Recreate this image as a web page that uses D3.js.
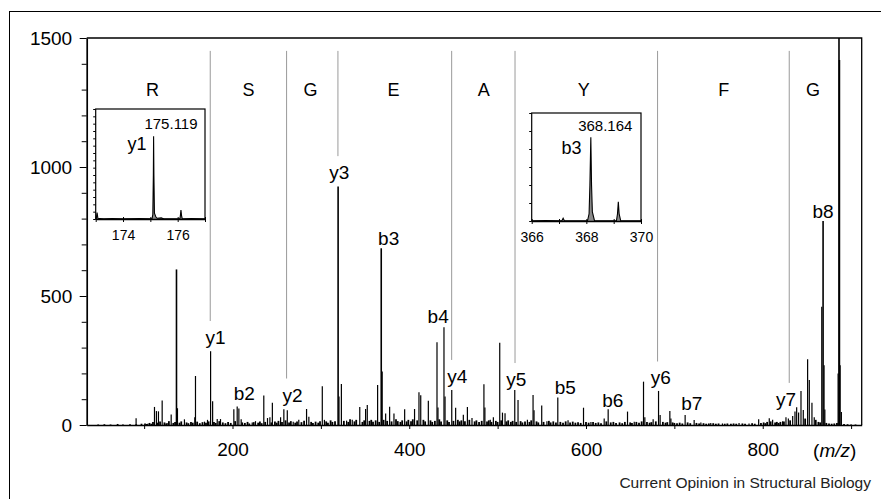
<!DOCTYPE html>
<html>
<meta charset="utf-8">
<head>
<title>Peptide MS/MS spectrum</title>
<style>
body { margin: 0; background: #fff; }
svg { display: block; font-family: "Liberation Sans", Arial, sans-serif; }
</style>
<script src="https://d3js.org/d3.v7.min.js"></script>
</head>
<body>
<svg></svg>
<script>

// main peaks, [m/z, intensity]
var peaks = [
  [90.9, 26], [104.1, 5], [111.7, 70], [113.9, 54], [116.2, 53], [120.4, 95], [126, 8], [130.6, 41],
  [136.6, 603], [137.7, 65], [145.6, 22], [157.3, 30], [158.1, 190], [168.3, 13], [171.7, 20],
  [175.2, 286], [177.5, 92], [182.7, 23], [186.4, 23],
  [201.5, 61], [205.3, 72], [207.2, 64], [209.8, 22], [222.3, 10], [226, 15], [235.4, 114], [239.6, 27],
  [242.3, 30], [245.1, 86], [254.4, 30], [258.1, 61], [262, 57], [268.7, 13], [275, 20], [283.8, 62],
  [286.4, 32], [301.6, 150], [304, 20], [319.5, 924], [320.5, 110], [323.2, 159], [329.1, 17], [335.5, 20],
  [344, 70], [350.6, 62], [352.5, 78], [364.2, 155], [368.3, 685], [369.4, 207], [373.3, 45], [377.8, 71],
  [382.7, 45], [394.8, 61], [406, 62], [411, 127], [413, 115], [421.6, 94], [431.4, 321], [432.5, 68],
  [439.3, 379], [440.5, 110], [448.1, 136], [452.5, 67], [461.2, 40], [465.8, 70], [471, 27],
  [484.5, 158], [485.6, 68], [491.7, 20], [495.2, 30], [502.4, 319], [505.5, 48], [508.4, 46],
  [519.4, 136], [523.1, 97], [533.7, 20], [540.1, 116], [541.2, 57], [549.9, 76], [555.8, 15],
  [568.1, 107], [579.7, 18], [597.2, 67], [605.6, 12], [620.6, 25], [625.1, 61], [647, 52], [654.6, 13],
  [665.1, 168], [666.6, 30], [676, 22], [682.1, 132], [683.9, 39], [694.9, 54], [696.1, 25],
  [712.2, 39], [722.4, 19], [730, 10], [741.2, 8], [754.4, 6], [773.2, 8], [784.5, 6], [795.4, 22],
  [807.4, 26], [811.2, 20], [822.5, 15], [826.3, 30], [829, 25], [833.9, 35], [836.5, 52], [838.4, 69],
  [840.6, 48], [843.3, 132], [845.9, 58], [850.8, 255], [852.7, 174], [855.7, 86], [858.3, 30],
  [866.8, 458], [868.3, 791], [869.4, 232], [870.3, 60], [885.3, 200], [886.3, 1600], [886.8, 1415],
  [887.6, 232], [889, 50]
];

// baseline chemical noise, [m/z, intensity]
var noise = [
  [48, 2], [55, 3], [62, 2], [70, 4], [76, 2], [84, 3], [91, 3], [97, 5],
  [101, 6], [103, 4], [106, 8], [108, 5], [110, 12], [115, 9], [118, 14], [123, 10], [125, 6], [128, 15],
  [133, 8], [135, 12], [140, 9], [142, 14], [148, 10], [150, 7], [153, 12], [155, 9], [160, 13], [163, 7],
  [166, 11], [170, 9], [173, 14], [179, 12], [181, 8], [185, 15], [189, 10], [192, 7], [195, 12], [198, 8],
  [203, 15], [211, 10], [214, 8], [217, 12], [219, 6], [224, 11], [229, 9], [231, 14], [233, 7], [237, 12],
  [244, 10], [248, 14], [250, 9], [252, 16], [256, 12], [260, 18], [264, 10], [266, 15], [271, 9], [273, 14],
  [278, 11], [281, 16], [289, 12], [291, 8], [294, 13], [297, 9], [299, 15],
  [306, 14], [308, 9], [311, 18], [313, 12], [316, 15], [326, 16], [331, 12], [333, 22], [338, 14], [340, 20],
  [347, 12], [349, 18], [355, 16], [357, 20], [359, 13], [362, 18], [366, 12], [371, 20], [375, 16], [380, 14],
  [385, 22], [387, 15], [390, 12], [392, 18], [397, 14], [399, 20],
  [402, 15], [404, 22], [409, 18], [416, 20], [418, 14], [424, 18], [426, 12], [429, 16], [434, 22], [436, 14],
  [443, 18], [445, 12], [450, 16], [455, 20], [457, 14], [459, 18], [463, 15], [468, 20], [474, 14], [476, 18],
  [479, 12], [482, 16], [488, 14], [490, 18], [493, 12], [498, 16], [500, 12],
  [504, 18], [510, 14], [512, 18], [515, 12], [517, 16], [521, 12], [526, 15], [528, 10], [531, 14], [536, 12],
  [538, 18], [544, 14], [546, 10], [552, 12], [558, 16], [560, 10], [563, 14], [566, 10], [571, 12], [574, 9],
  [577, 14], [582, 10], [585, 13], [588, 9], [591, 11], [594, 8], [600, 12],
  [603, 9], [608, 12], [611, 8], [614, 10], [617, 7], [623, 14], [628, 10], [631, 12], [634, 8], [638, 10],
  [641, 7], [644, 12], [650, 10], [652, 8], [657, 12], [660, 9], [663, 14], [669, 12], [672, 9], [674, 11],
  [679, 14], [687, 12], [690, 9], [692, 11], [698, 10], [700, 8],
  [703, 7], [706, 9], [709, 6], [715, 10], [718, 7], [725, 8], [728, 6], [733, 7], [736, 5], [739, 6],
  [744, 7], [747, 5], [750, 6], [757, 5], [760, 6], [764, 5], [767, 6], [770, 5], [777, 6], [780, 5],
  [788, 7], [791, 5], [798, 8], [801, 10], [803, 7],
  [805, 12], [809, 14], [814, 10], [816, 12], [818, 8], [820, 12], [824, 14], [831, 18], [848, 25], [860, 20],
  [863, 12], [865, 10], [872, 8], [875, 6], [878, 5], [881, 6], [884, 8], [892, 4], [896, 3], [900, 2], [905, 2]
];

// fragment ion labels: name, m/z, intensity of the label baseline
var ionNames = ["y1", "b2", "y2", "y3", "b3", "b4", "y4", "y5", "b5", "b6", "y6", "b7", "y7", "b8"];
var ionMz    = [180.7, 213.3, 268, 320.8, 376.7, 432.7, 454.5, 521.1, 576.6, 630.4, 684.7, 719.8, 826.3, 868.2];
var ionLabI  = [314, 97, 91, 953, 698, 395, 163, 151, 120, 68, 157, 58, 74, 802];

// y-ion ladder cuts and residues between them
var cutIons = ["y1", "y2", "y3", "y4", "y5", "y6", "y7"];
var cutMz   = [174.8, 261.2, 319.3, 448.0, 519.7, 681.0, 830.0];
var residues  = ["R", "S", "G", "E", "A", "Y", "F", "G"];
var residueMz = [109.4, 218.1, 288.3, 382.3, 484.3, 597.5, 756, 856.8];

var xTicks = [100, 200, 300, 400, 500, 600, 700, 800, 900];
var xTickLabels = [200, 400, 600, 800];
var yTicks = [0, 100, 200, 300, 400, 500, 600, 700, 800, 900, 1000, 1100, 1200, 1300, 1400, 1500];
var yTickLabels = [0, 500, 1000, 1500];

// insets: high resolution profiles, [m/z, intensity]
var inset1Profile = [
  [173, 0], [173.02, 0.1], [173.05, 0.86], [173.08, 0.1], [173.3, 0], [173.6, 0.05], [174, 0], [174.6, 0.05],
  [175.06, 0], [175.09, 0.6], [175.11, 6], [175.119, 11.3], [175.13, 6], [175.15, 0.8], [175.2, 0.3],
  [175.25, 0.1], [175.4, 0.15], [175.5, 0], [176.08, 0], [176.1, 0.5], [176.12, 1.23], [176.14, 0.5],
  [176.17, 0], [176.5, 0.05], [177, 0]
];
var inset1Ticks = [173, 174, 175, 176, 177];
var inset1Labels = [174, 176];
var inset1YTicks = [0, 1, 2, 3, 4, 5, 6, 7, 8, 9, 10, 11, 12, 13, 14, 15];

var inset2Profile = [
  [366, 0], [366.5, 0.02], [367.1, 0], [367.15, 0.15], [367.2, 0], [368.04, 0], [368.1, 0.4], [368.13, 2],
  [368.164, 4.65], [368.19, 2], [368.22, 0.5], [368.3, 0], [369.1, 0], [369.14, 0.4], [369.17, 1.07],
  [369.2, 0.4], [369.26, 0], [370, 0]
];
var inset2Ticks = [366, 367, 368, 369, 370];
var inset2Labels = [366, 368, 370];
var inset2YTicks = [0, 1, 2, 3, 4, 5, 6];


var width = 881, height = 499;
var svg = d3.select("svg").attr("width", width).attr("height", height);

// outer figure frame
svg.append("rect")
    .attr("x", 9.5).attr("y", 11.5)
    .attr("width", 900).attr("height", 600)
    .attr("fill", "none").attr("stroke", "#000");

var x = d3.scaleLinear().domain([35, 912]).range([86.7, 861.7]);
var y = d3.scaleLinear().domain([0, 1500]).range([425, 38]);

// y-ion ladder lines
var labI = {};
ionNames.forEach((n, i) => labI[n] = ionLabI[i]);
svg.append("g").selectAll("line")
    .data(cutMz)
    .enter().append("line")
    .attr("x1", d => x(d)).attr("x2", d => x(d))
    .attr("y1", y(1450))
    .attr("y2", (d, i) => y(labI[cutIons[i]]) - 23)
    .attr("stroke", "#9a9a9a").attr("stroke-width", 1);

svg.append("g").selectAll("text")
    .data(residues)
    .enter().append("text")
    .attr("x", (d, i) => x(residueMz[i]))
    .attr("y", y(1277))
    .attr("text-anchor", "middle")
    .attr("font-size", "18px")
    .text(d => d);

// spectrum sticks
var spec = svg.append("g").attr("id", "spectrum");
spec.selectAll(".noise")
    .data(noise)
    .enter().append("line")
    .attr("class", "noise")
    .attr("x1", d => x(d[0])).attr("x2", d => x(d[0]))
    .attr("y1", y(0)).attr("y2", d => y(d[1]))
    .attr("stroke", "#000").attr("stroke-width", 1.8);
spec.selectAll(".peak")
    .data(peaks)
    .enter().append("line")
    .attr("class", "peak")
    .attr("x1", d => x(d[0])).attr("x2", d => x(d[0]))
    .attr("y1", y(0)).attr("y2", d => y(Math.min(d[1], 1500)))
    .attr("stroke", "#000")
    .attr("stroke-width", d => d[1] > 500 ? 1.6 : 1.2);

// plot box (top and right)
svg.append("path")
    .attr("d", "M" + x.range()[0] + "," + y.range()[1] + "H" + x.range()[1] + "V" + y.range()[0])
    .attr("fill", "none").attr("stroke", "#000").attr("stroke-width", 1.3);

// axes
var xAxis = svg.append("g")
    .attr("transform", "translate(0," + y(0) + ")")
    .call(d3.axisBottom(x).tickValues(xTicks).tickSizeOuter(0).tickSizeInner(4).tickPadding(14)
        .tickFormat(d => xTickLabels.indexOf(d) >= 0 ? d : ""));
xAxis.attr("font-family", null).attr("font-size", null);
xAxis.select(".domain").attr("stroke-width", 1.6);
xAxis.selectAll("text").attr("font-size", "19px").attr("fill", "#000");

var yAxis = svg.append("g")
    .attr("transform", "translate(" + x.range()[0] + ",0)")
    .call(d3.axisLeft(y).tickValues(yTicks).tickSizeOuter(0).tickSizeInner(7).tickPadding(7.5)
        .tickFormat(d => yTickLabels.indexOf(d) >= 0 ? d : ""));
yAxis.attr("font-family", null).attr("font-size", null);
yAxis.select(".domain").attr("stroke-width", 1.7);
yAxis.selectAll(".tick line").attr("x2", d => yTickLabels.indexOf(d) >= 0 ? -7 : -5);
yAxis.selectAll("text").attr("font-size", "19px").attr("fill", "#000");

var mzLab = svg.append("text")
    .attr("x", 834.7).attr("y", 456.5)
    .attr("text-anchor", "middle")
    .attr("font-size", "19px");
mzLab.append("tspan").text("(");
mzLab.append("tspan").attr("font-style", "italic").text("m/z");
mzLab.append("tspan").text(")");

// ion labels
svg.append("g").selectAll("text")
    .data(ionNames)
    .enter().append("text")
    .attr("x", (d, i) => x(ionMz[i]))
    .attr("y", (d, i) => y(ionLabI[i]))
    .attr("text-anchor", "middle")
    .attr("font-size", "19px")
    .text(d => d);

// zoom insets
function drawInset(box, dom, yDom, profile, ticks, labels, yTicksIn, peakText, ionText) {
    var ix = d3.scaleLinear().domain(dom).range([box[0], box[2]]);
    var iy = d3.scaleLinear().domain(yDom).range([box[3], box[1]]);
    var g = svg.append("g").attr("class", "inset");

    g.append("rect")
        .attr("x", box[0]).attr("y", box[1])
        .attr("width", box[2] - box[0]).attr("height", box[3] - box[1])
        .attr("fill", "#fff").attr("stroke", "#000").attr("stroke-width", 1.2);

    g.append("path")
        .datum(profile)
        .attr("d", d3.area().x(d => ix(d[0])).y0(iy(0)).y1(d => iy(d[1])))
        .attr("fill", "#8a8a8a");
    g.append("path")
        .datum(profile)
        .attr("d", d3.line().x(d => ix(d[0])).y(d => iy(d[1])))
        .attr("fill", "none").attr("stroke", "#000").attr("stroke-width", 1.1);

    var bx = g.append("g")
        .attr("transform", "translate(0," + box[3] + ")")
        .call(d3.axisBottom(ix).tickValues(ticks).tickSizeOuter(0).tickSizeInner(3).tickPadding(8)
            .tickFormat(d => labels.indexOf(d) >= 0 ? d : ""));
    bx.attr("font-family", null).attr("font-size", null);
    bx.select(".domain").attr("stroke-width", 1.6);
    bx.selectAll(".tick line").attr("y1", -2);
    bx.selectAll("text").attr("font-size", "14px").attr("fill", "#000");

    var ly = g.append("g")
        .attr("transform", "translate(" + box[0] + ",0)")
        .call(d3.axisLeft(iy).tickValues(yTicksIn).tickSizeOuter(0).tickSizeInner(2.5).tickFormat(""));
    ly.select(".domain").remove();

    g.append("text")
        .attr("x", peakText[1]).attr("y", peakText[2])
        .attr("text-anchor", "middle").attr("font-size", "15px")
        .text(peakText[0]);
    g.append("text")
        .attr("x", ionText[1]).attr("y", ionText[2])
        .attr("text-anchor", "middle").attr("font-size", "18px")
        .text(ionText[0]);
}

drawInset([95.7, 109, 205, 219], [173, 177], [0, 15], inset1Profile, inset1Ticks, inset1Labels, inset1YTicks,
    ["175.119", 171, 129], ["y1", 137, 150]);
drawInset([531.7, 113, 641, 221], [366, 370], [0, 6], inset2Profile, inset2Ticks, inset2Labels, inset2YTicks,
    ["368.164", 605.3, 131], ["b3", 571.5, 154]);

svg.append("text")
    .attr("x", 871).attr("y", 488)
    .attr("text-anchor", "end")
    .attr("font-size", "15.5px")
    .attr("fill", "#222")
    .text("Current Opinion in Structural Biology");

</script>
</body>
</html>
